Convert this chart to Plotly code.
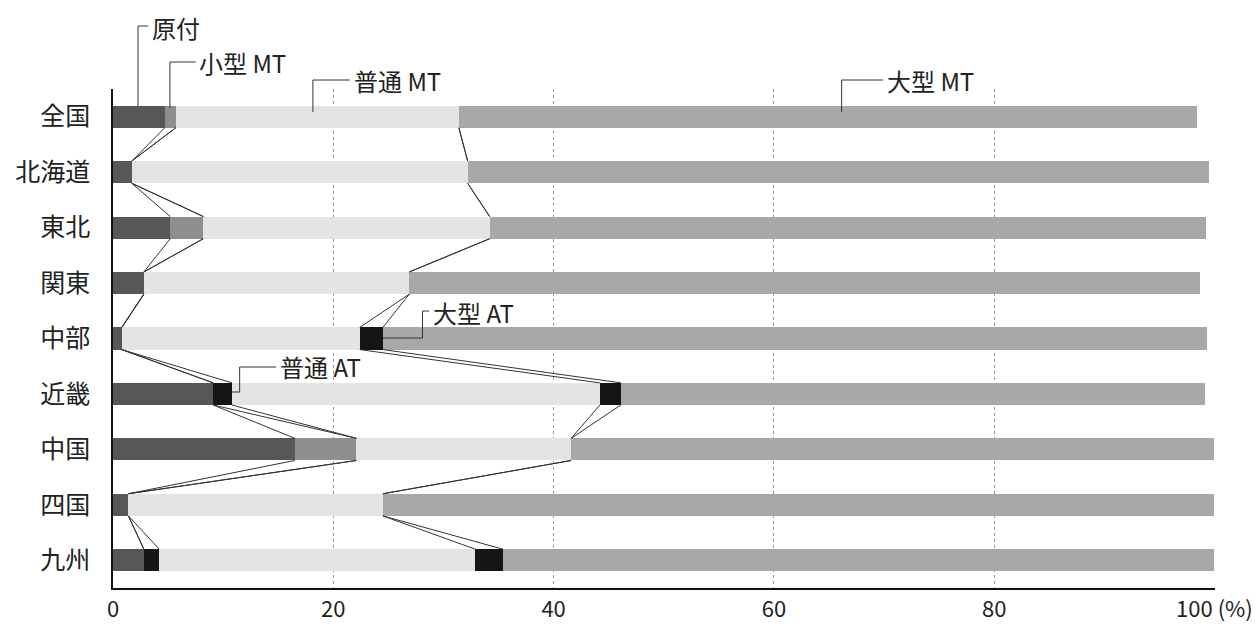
import plotly.graph_objects as go

categories = ["全国", "北海道", "東北", "関東", "中部", "近畿", "中国", "四国", "九州"]
series_names = ["原付", "小型 MT", "普通 AT", "普通 MT", "大型 AT", "大型 MT"]
gentsuki = [4.7, 1.7, 5.2, 2.8, 0.8, 9.1, 16.5, 1.4, 2.8]
kogata_mt = [1.0, 0.0, 3.0, 0.0, 0.0, 0.0, 5.6, 0.0, 0.0]
futsu_at = [0.0, 0.0, 0.0, 0.0, 0.0, 1.7, 0.0, 0.0, 1.4]
futsu_mt = [25.7, 30.5, 26.0, 24.1, 21.6, 33.4, 19.5, 23.1, 28.7]
oogata_at = [0.0, 0.0, 0.0, 0.0, 2.1, 1.9, 0.0, 0.0, 2.5]
oogata_mt = [67.0, 67.3, 65.0, 71.8, 74.8, 53.0, 58.4, 75.5, 64.6]
x_ticks = [0, 20, 40, 60, 80, 100]
x_ticktext = ["0", "20", "40", "60", "80", "100 (%)"]

series_values = [gentsuki, kogata_mt, futsu_at, futsu_mt, oogata_at, oogata_mt]
colors = ["#575757", "#8e8e8e", "#151515", "#e4e4e4", "#151515", "#a8a8a8"]

FONT = "Noto Sans CJK JP"
BAR_W = 0.4
ypos = list(range(len(categories)))

fig = go.Figure()
for name, vals, col in zip(series_names, series_values, colors):
    fig.add_trace(go.Bar(
        y=ypos, x=vals, name=name, orientation="h", width=BAR_W,
        marker=dict(color=col, line=dict(width=0)), showlegend=False,
    ))

# series lines connecting cumulative boundaries between adjacent bars
cum = []
run = [0.0] * len(categories)
for vals in series_values[:-1]:
    run = [a + b for a, b in zip(run, vals)]
    cum.append(run[:])
for c in cum:
    xs, ys = [], []
    for i in range(len(categories) - 1):
        xs += [c[i], c[i + 1], None]
        ys += [i + BAR_W / 2, i + 1 - BAR_W / 2, None]
    fig.add_trace(go.Scatter(x=xs, y=ys, mode="lines",
                             line=dict(color="#333333", width=1),
                             showlegend=False, hoverinfo="skip"))

# leader-line callouts (x in data units, y in paper units of the plot area)
def py(p):
    return (588 - p) / 499.0

callouts = [
    ("原付", 3.36, py(27), [(3.2, py(26)), (2.27, py(26)), (2.27, py(106))]),
    ("小型 MT", 7.6, py(63), [(7.5, py(62)), (5.17, py(62)), (5.17, py(108))]),
    ("普通 MT", 21.7, py(80), [(21.5, py(80)), (18.15, py(80)), (18.15, py(112))]),
    ("大型 MT", 70.1, py(80), [(69.9, py(80)), (66.15, py(80)), (66.15, py(112))]),
    ("大型 AT", 28.9, py(312), [(28.7, py(311)), (28.1, py(311)), (28.1, py(338)), (24.5, py(338))]),
    ("普通 AT", 15.0, py(366), [(14.8, py(367)), (11.5, py(367)), (11.5, py(392)), (10.8, py(392))]),
]
shapes = []
for text, tx, ty, pts in callouts:
    path = "M " + " L ".join(f"{x},{y}" for x, y in pts)
    shapes.append(dict(type="path", path=path, xref="x", yref="paper",
                       line=dict(color="#333333", width=1)))
    fig.add_annotation(x=tx, y=ty, xref="x", yref="paper", text=text,
                       showarrow=False, xanchor="left", yanchor="middle",
                       font=dict(family=FONT, size=24, color="#222222"))

fig.update_layout(
    width=1252, height=618,
    margin=dict(l=105, r=45, t=81, b=38, autoexpand=False),
    paper_bgcolor="white", plot_bgcolor="white",
    barmode="stack", bargap=0,
    font=dict(family=FONT, size=22, color="#222222"),
    shapes=shapes,
    xaxis=dict(
        range=[0, 100.05], tickvals=x_ticks, ticktext=x_ticktext,
        showgrid=True, gridcolor="#9a9a9a", griddash="3px,3px", gridwidth=1,
        showline=True, linecolor="#111111", linewidth=1.5,
        zeroline=False, ticks="", tickfont=dict(family=FONT, size=22),
        ticklabelstandoff=1, automargin=False,
    ),
    yaxis=dict(
        range=[8.5, -0.5], tickvals=ypos, ticktext=categories,
        showgrid=False, zeroline=False,
        showline=True, linecolor="#111111", linewidth=1.5,
        ticks="", tickfont=dict(family=FONT, size=25),
        ticklabelstandoff=16, automargin=False,
    ),
)

fig.write_html("out.html")
